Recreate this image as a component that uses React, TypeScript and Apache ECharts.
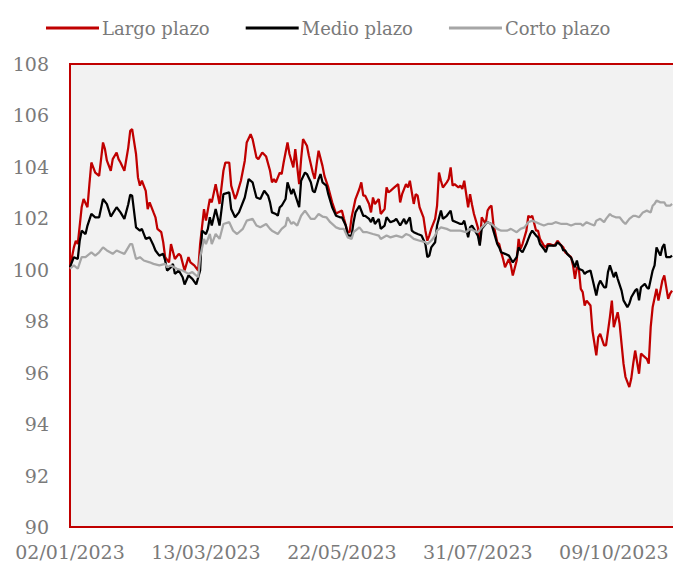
import React, { useEffect, useRef } from "react";
import * as echarts from "echarts";

// x = calendar days since 02/01/2023
const tickLabels = ["02/01/2023", "13/03/2023", "22/05/2023", "31/07/2023", "09/10/2023"];
const seriesNames = ["Largo plazo", "Medio plazo", "Corto plazo"];
const seriesColors = ["#C00000", "#000000", "#A6A6A6"];

const largo = [[0,100.1],[2,100.87],[3,101.13],[4,101.0],[6,102.43],[7,102.75],[9,102.43],[10,103.33],[11,104.17],[13,103.78],[15,103.65],[17,104.95],[18,104.69],[19,104.24],[21,103.85],[22,104.3],[24,104.56],[25,104.3],[26,104.17],[28,103.85],[30,104.75],[31,105.4],[32,105.47],[34,104.5],[35,103.59],[36,103.27],[37,103.46],[39,103.07],[40,102.36],[41,102.62],[43,102.23],[44,102.04],[45,101.59],[47,101.46],[48,101.07],[49,100.49],[51,100.29],[52,101.0],[54,100.42],[56,100.62],[57,100.55],[59,99.97],[61,100.49],[62,100.29],[64,100.17],[66,99.97],[67,101.0],[69,102.36],[70,101.91],[72,102.75],[73,102.62],[75,103.33],[77,102.56],[79,103.85],[80,104.17],[82,104.17],[83,103.27],[85,102.75],[86,102.94],[88,103.46],[90,104.24],[91,104.95],[93,105.27],[94,105.08],[96,104.37],[97,104.3],[99,104.56],[101,104.4],[103,103.85],[104,103.4],[105,103.53],[106,103.4],[108,103.78],[109,103.72],[110,104.17],[112,104.95],[113,104.5],[115,103.98],[116,104.69],[118,103.33],[119,104.3],[120,105.08],[122,104.82],[123,104.43],[125,103.78],[126,103.53],[127,104.11],[128,104.63],[130,104.04],[131,103.65],[133,103.2],[135,102.62],[137,102.17],[138,102.23],[140,102.3],[141,102.0],[143,101.46],[144,101.46],[145,102.04],[147,102.75],[149,103.14],[150,103.4],[151,102.88],[152,102.88],[154,102.56],[155,102.23],[156,102.81],[157,102.55],[159,102.75],[160,102.17],[162,102.36],[163,103.2],[164,103.01],[165,103.07],[167,103.2],[169,103.33],[170,102.62],[171,102.94],[173,103.33],[174,103.2],[175,103.46],[177,102.56],[178,102.94],[179,102.88],[180,102.43],[182,102.04],[183,101.52],[184,101.13],[185,101.33],[186,101.59],[188,101.98],[189,102.49],[190,103.78],[191,103.46],[192,103.2],[194,103.4],[195,103.53],[196,103.98],[197,103.27],[198,103.33],[200,103.2],[201,103.27],[202,103.14],[203,103.46],[205,102.43],[206,102.94],[207,102.53],[208,102.17],[210,101.65],[211,101.0],[212,102.04],[214,101.78],[215,102.3],[216,102.43],[217,102.49],[218,101.78],[220,101.07],[221,101.0],[222,100.68],[223,100.42],[224,100.1],[226,100.42],[227,100.17],[228,99.78],[230,100.36],[231,101.2],[232,100.81],[233,101.0],[235,101.52],[236,102.1],[237,102.04],[238,102.1],[240,101.52],[241,101.52],[242,101.2],[244,100.94],[245,100.87],[246,101.0],[247,101.0],[249,100.94],[250,101.0],[251,101.13],[253,100.94],[254,100.87],[255,100.68],[256,100.62],[258,100.49],[259,100.17],[260,99.65],[261,100.1],[262,100.04],[263,99.26],[264,99.13],[265,98.61],[266,98.8],[268,98.61],[269,97.64],[271,96.67],[272,97.38],[273,97.51],[275,97.06],[276,97.06],[278,98.16],[279,98.8],[280,97.77],[282,98.35],[283,97.9],[284,97.12],[285,96.35],[286,95.84],[288,95.44],[289,95.77],[290,96.35],[291,96.86],[293,95.96],[294,96.74],[295,96.67],[297,96.54],[298,96.35],[299,97.77],[300,98.54],[302,99.26],[303,98.8],[304,99.19],[305,99.58],[306,99.78],[308,98.87],[309,99.07],[310,99.19]];

const medio = [[0,100.1],[2,100.49],[4,100.42],[5,101.13],[6,101.52],[8,101.39],[9,101.72],[11,102.17],[13,102.04],[15,102.04],[17,102.75],[19,102.55],[21,102.07],[24,102.43],[26,102.23],[28,101.98],[30,102.55],[31,102.92],[32,102.88],[34,101.65],[36,101.52],[37,101.59],[39,101.2],[41,101.26],[43,100.94],[44,100.75],[46,100.55],[48,100.62],[49,100.36],[50,99.97],[52,100.1],[53,100.23],[54,99.84],[56,99.97],[58,99.71],[59,99.43],[61,99.78],[63,99.65],[65,99.43],[67,99.97],[68,101.52],[70,101.39],[71,101.59],[72,102.04],[73,101.72],[75,102.36],[77,101.72],[79,102.94],[82,103.01],[83,102.36],[85,102.04],[87,102.23],[90,102.81],[92,103.53],[94,103.4],[96,102.81],[98,102.75],[100,103.07],[102,102.88],[103,102.62],[104,102.23],[106,102.17],[107,102.1],[108,102.43],[109,102.49],[111,102.75],[112,103.4],[114,102.94],[115,103.14],[118,102.43],[119,103.46],[121,103.78],[122,103.72],[124,103.4],[125,103.07],[126,103.01],[128,103.53],[129,103.72],[130,103.4],[132,103.27],[133,102.94],[135,102.43],[137,102.1],[139,102.04],[140,102.04],[142,101.72],[143,101.33],[145,101.33],[146,101.85],[147,102.23],[149,102.49],[151,102.1],[152,102.1],[154,101.98],[155,101.85],[156,102.04],[157,101.78],[159,101.98],[160,101.59],[162,101.72],[163,102.04],[165,101.85],[167,101.91],[168,101.98],[170,101.72],[172,101.98],[173,101.78],[175,102.04],[176,101.52],[177,101.46],[179,101.39],[181,101.33],[183,101.0],[184,100.49],[185,100.55],[186,100.87],[188,101.07],[189,101.72],[191,102.3],[192,101.98],[194,102.1],[196,102.3],[197,101.91],[199,101.85],[201,101.78],[202,101.78],[203,101.91],[205,101.26],[206,101.65],[207,101.72],[208,101.59],[210,101.33],[211,100.94],[212,101.59],[214,101.78],[215,101.85],[217,101.78],[218,101.52],[220,101.0],[221,100.87],[222,100.68],[224,100.62],[226,100.55],[227,100.42],[228,100.29],[230,100.49],[231,100.87],[232,100.75],[233,100.68],[235,101.0],[236,101.2],[237,101.39],[238,101.52],[240,101.33],[241,101.26],[242,101.0],[244,100.81],[245,100.68],[246,100.94],[248,100.94],[250,100.94],[251,101.07],[253,100.94],[254,100.75],[255,100.75],[256,100.62],[258,100.47],[260,100.1],[261,100.36],[262,100.04],[264,99.97],[265,99.84],[266,99.91],[268,99.97],[269,99.65],[271,99.0],[272,99.39],[273,99.58],[275,99.32],[276,99.32],[277,99.91],[278,100.17],[280,99.71],[281,99.91],[282,99.65],[284,99.19],[285,98.81],[287,98.55],[288,98.68],[289,98.93],[291,99.19],[292,99.26],[293,98.81],[294,99.32],[296,99.45],[297,99.32],[298,99.26],[300,99.97],[301,100.17],[302,100.87],[304,100.55],[305,100.87],[306,101.0],[307,100.49],[309,100.49],[310,100.55]];

const corto = [[0,100.04],[2,100.17],[4,100.04],[6,100.49],[8,100.49],[11,100.68],[13,100.55],[15,100.68],[17,100.87],[19,100.75],[22,100.62],[24,100.75],[26,100.68],[28,100.62],[31,101.0],[32,101.0],[34,100.42],[36,100.49],[38,100.36],[41,100.29],[43,100.23],[46,100.17],[49,100.23],[50,100.1],[52,100.17],[55,100.04],[58,99.97],[61,99.84],[63,99.91],[66,99.71],[67,100.49],[69,101.2],[70,101.0],[72,101.39],[73,101.0],[75,101.39],[77,101.2],[79,101.78],[82,101.85],[84,101.52],[86,101.39],[89,101.59],[91,101.91],[94,101.98],[96,101.72],[98,101.65],[101,101.78],[103,101.59],[104,101.52],[107,101.39],[109,101.59],[111,101.72],[112,102.04],[114,101.78],[115,101.85],[117,101.72],[119,102.1],[121,102.3],[124,101.98],[126,101.98],[128,102.17],[130,102.07],[132,102.04],[134,101.85],[137,101.65],[139,101.59],[141,101.59],[143,101.26],[145,101.2],[146,101.46],[149,101.65],[151,101.46],[153,101.46],[156,101.39],[159,101.33],[160,101.2],[163,101.33],[165,101.26],[168,101.33],[171,101.26],[173,101.39],[175,101.33],[177,101.2],[180,101.13],[183,101.07],[184,101.0],[186,101.13],[188,101.33],[189,101.52],[191,101.65],[194,101.59],[196,101.52],[199,101.52],[201,101.52],[204,101.46],[206,101.59],[208,101.52],[210,101.46],[212,101.65],[214,101.78],[215,101.85],[217,101.78],[220,101.59],[222,101.52],[225,101.52],[227,101.59],[230,101.46],[232,101.59],[234,101.65],[236,101.85],[238,101.91],[240,101.85],[242,101.78],[244,101.72],[246,101.78],[248,101.78],[250,101.85],[253,101.78],[256,101.78],[258,101.72],[260,101.78],[263,101.78],[264,101.72],[266,101.85],[268,101.78],[270,101.72],[271,101.91],[273,101.98],[275,101.85],[276,101.98],[278,102.17],[279,102.1],[281,102.04],[283,102.04],[285,101.85],[286,101.78],[288,101.98],[290,102.1],[291,102.1],[293,102.04],[295,102.23],[297,102.3],[299,102.23],[300,102.49],[301,102.56],[302,102.69],[304,102.62],[306,102.62],[307,102.49],[309,102.49],[310,102.56]];

const seriesData = [largo, medio, corto];
const FONT = "DejaVu Serif";
const TEXT = "#7a7a7a";

export default function App() {
  const ref = useRef<HTMLDivElement>(null);
  useEffect(() => {
    if (!ref.current) return;
    const chart = echarts.init(ref.current, null, { renderer: "svg" });
    chart.setOption({
      animation: false,
      legend: {
        data: seriesNames,
        top: 14,
        left: 41,
        icon: "rect",
        itemWidth: 53,
        itemHeight: 3,
        itemGap: 36,
        textStyle: { fontFamily: FONT, fontSize: 18, color: TEXT, padding: [0, 0, 0, -2] },
      },
      grid: {
        left: 70,
        right: 6,
        top: 64,
        bottom: 37,
        show: true,
        backgroundColor: "#F2F2F2",
        borderColor: "#C00000",
        borderWidth: 2,
      },
      xAxis: {
        type: "value",
        min: 0,
        max: 311,
        interval: 70,
        axisLine: { show: false },
        axisTick: { show: false },
        splitLine: { show: false },
        axisLabel: {
          fontFamily: FONT,
          fontSize: 19,
          color: TEXT,
          margin: 15,
          showMaxLabel: false,
          formatter: (v: number) => (v % 70 === 0 ? tickLabels[v / 70] ?? "" : ""),
        },
      },
      yAxis: {
        type: "value",
        min: 90,
        max: 108,
        interval: 2,
        axisLine: { show: false },
        axisTick: { show: false },
        splitLine: { show: false },
        axisLabel: { fontFamily: FONT, fontSize: 19, color: TEXT, margin: 21 },
      },
      series: seriesNames.map((name, i) => ({
        name,
        type: "line",
        data: seriesData[i],
        showSymbol: false,
        symbol: "none",
        color: seriesColors[i],
        lineStyle: { width: 2.25, color: seriesColors[i] },
      })),
    });
    return () => chart.dispose();
  }, []);
  return (
    <div style={{ position: "fixed", left: 0, top: 0, width: 673, height: 564, overflow: "hidden", background: "#fff" }}>
      <div ref={ref} style={{ width: 680, height: 564 }} />
    </div>
  );
}
